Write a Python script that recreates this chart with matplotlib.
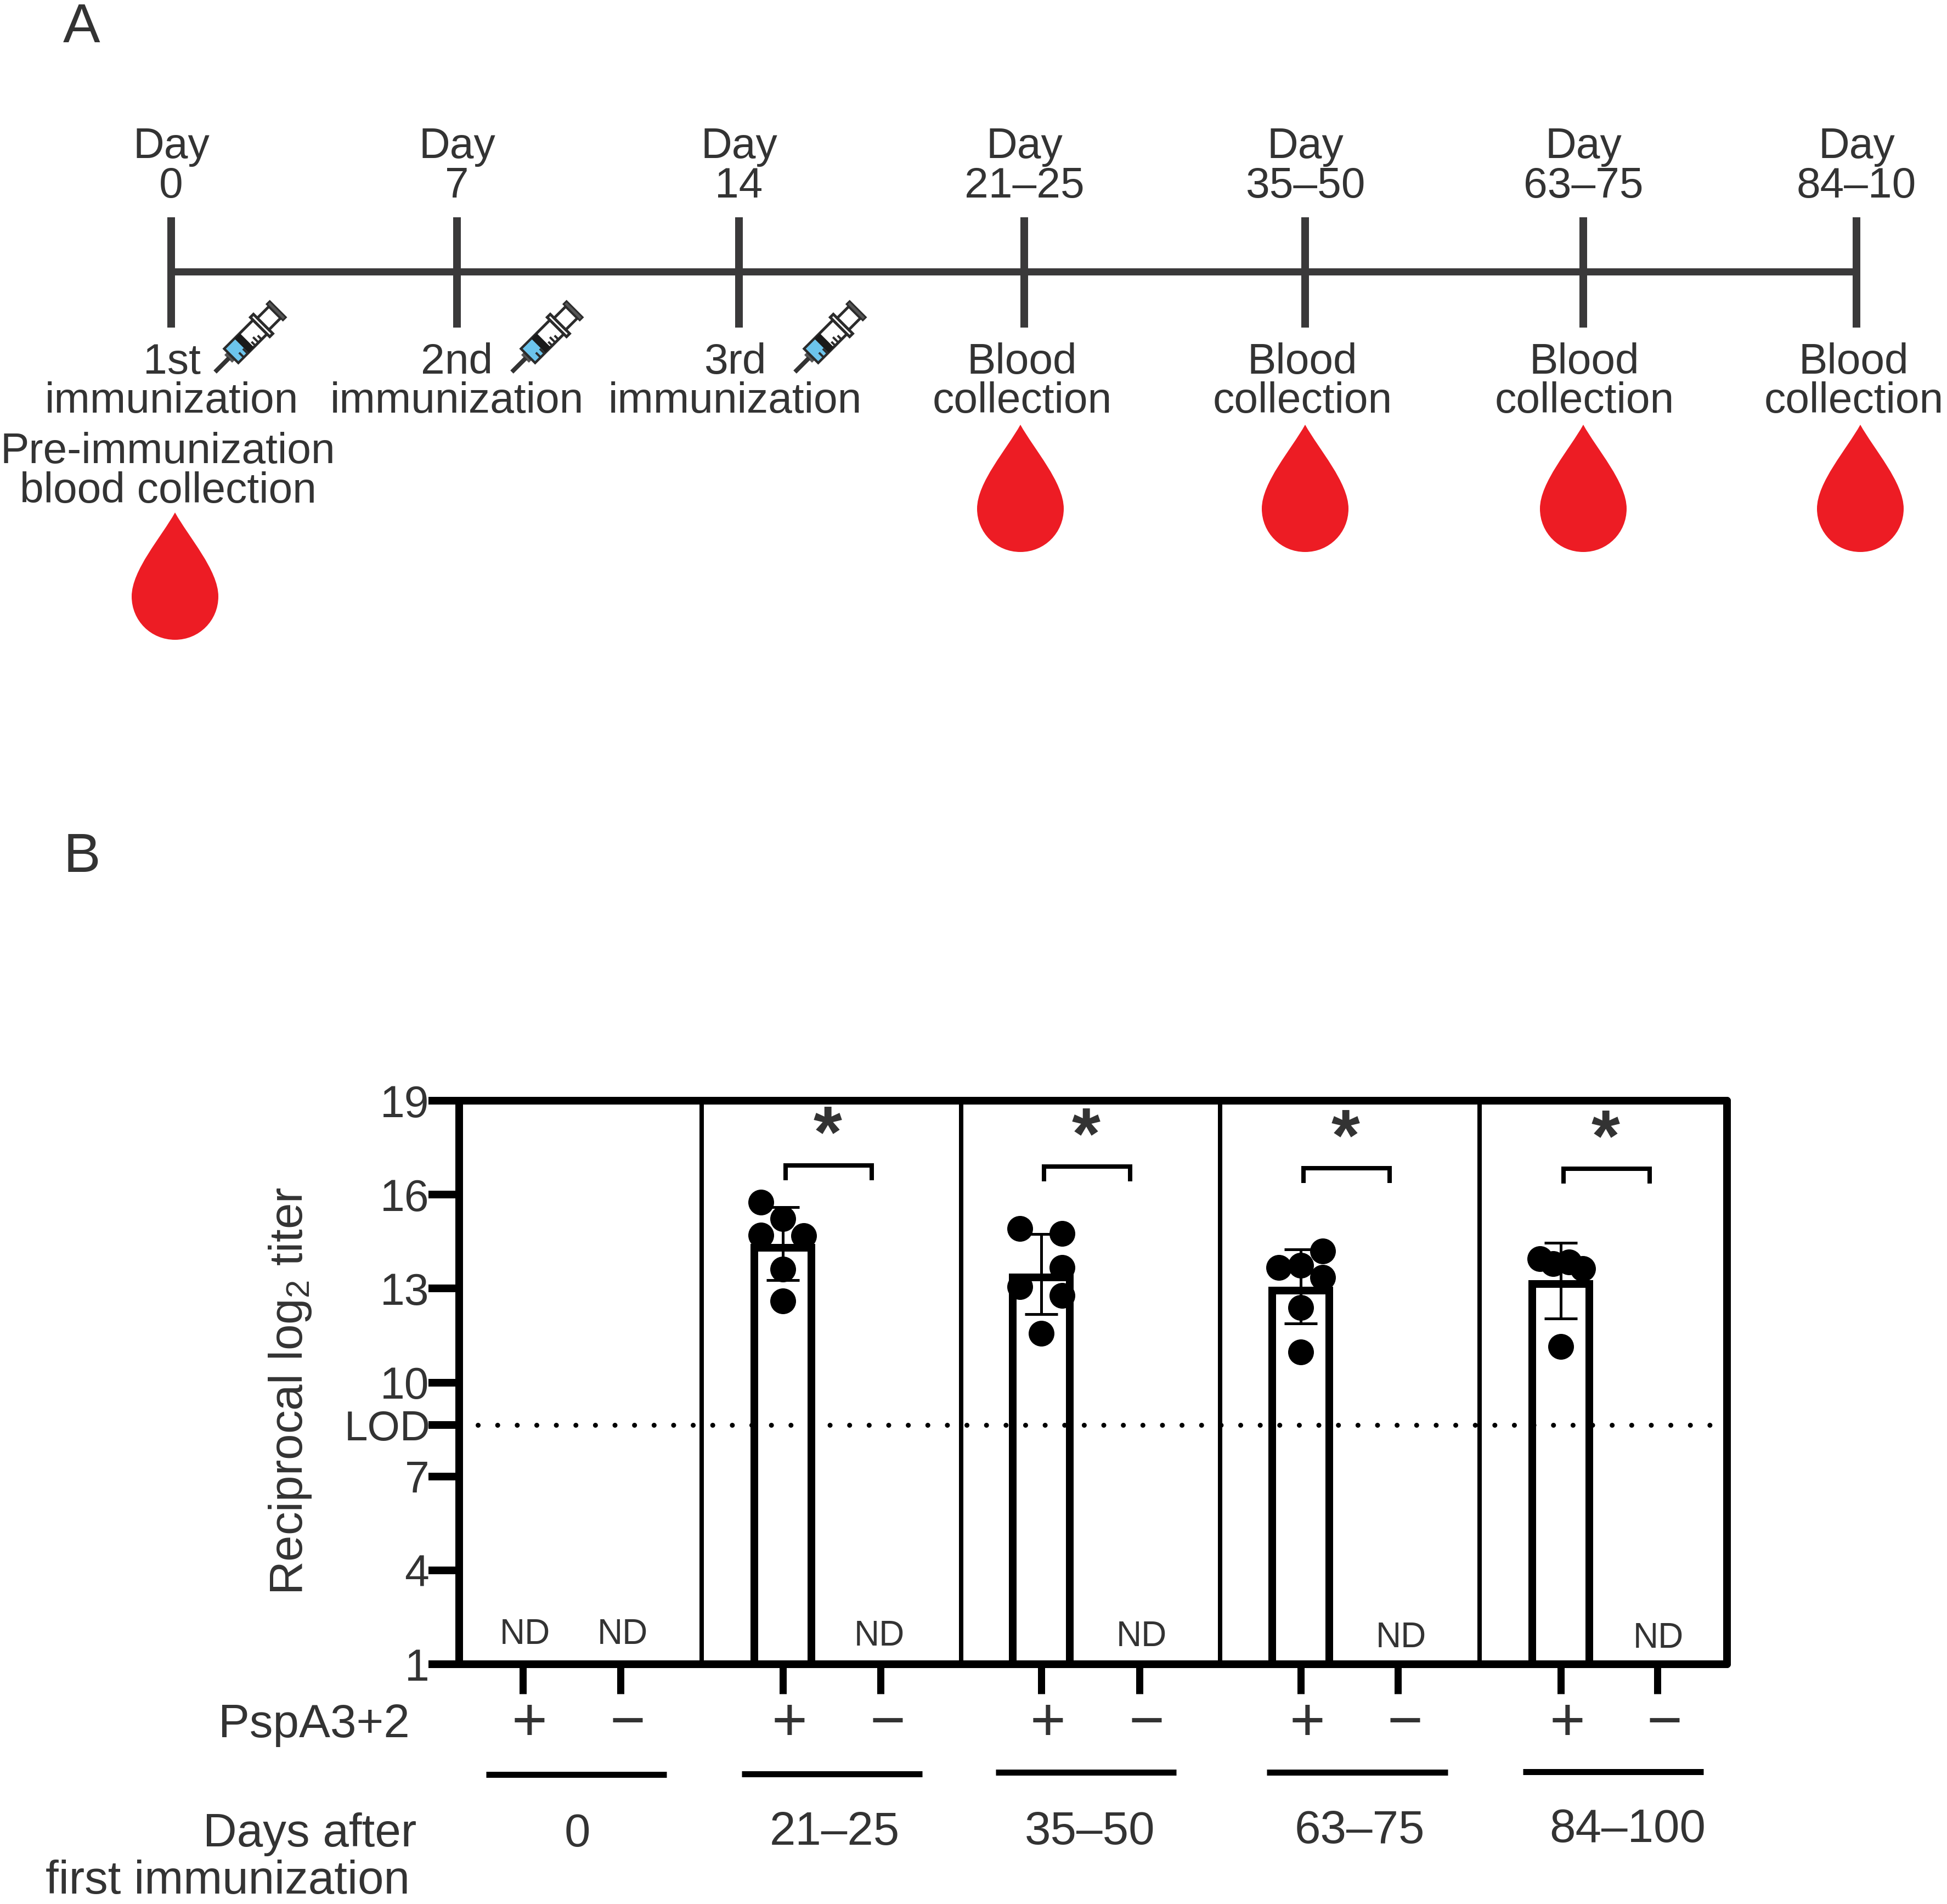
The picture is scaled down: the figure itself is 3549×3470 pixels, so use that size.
import numpy as np
import matplotlib
matplotlib.use('Agg')
import matplotlib.pyplot as plt
from matplotlib.path import Path
from matplotlib.patches import PathPatch, Polygon

plt.rcParams['font.family'] = ['Liberation Sans', 'DejaVu Sans']
plt.rcParams['mathtext.default'] = 'regular'

# Panel A, the schedule
day_labels = ['0', '7', '14', '21\u201325', '35\u201350', '63\u201375', '84\u201310']
day_pos = [312, 833, 1347, 1867, 2379, 2886, 3384]
event_top = ['1st', '2nd', '3rd', 'Blood', 'Blood', 'Blood', 'Blood']
event_bottom = ['immunization', 'immunization', 'immunization',
                'collection', 'collection', 'collection', 'collection']
event_pos = [313, 833, 1340, 1863, 2374, 2888, 3379]
syringe_tips = [392, 933, 1449]
drop_pos = [1860, 2379, 2886, 3391]

# Panel B, reciprocal log2 titers
group_labels = ['0', '21\u201325', '35\u201350', '63\u201375', '84\u2013100']
group_label_pos = [1052, 1521, 1987, 2478, 2967]
group_label_base = [3365, 3362, 3361, 3359, 3357]
tick_pos = [0, 1, 2.663, 3.663, 5.309, 6.315, 7.966, 8.961, 10.629, 11.618]
signs = ['+', '\u2212'] * 5
bar_pos = [2.663, 5.309, 7.966, 10.629]
means = [14.3, 13.35, 12.93, 13.14]
err_low = [13.26, 12.18, 11.88, 12.05]
err_high = [15.6, 14.74, 14.25, 14.46]
dots = [
    [15.75, 15.23, 14.7, 14.68, 13.62, 12.6],
    [14.91, 14.75, 13.68, 13.05, 12.77, 11.56],
    [13.68, 13.75, 14.2, 13.35, 12.39, 10.98],
    [13.96, 13.79, 13.84, 13.63, 11.14],
]
dots_dx = [
    [-0.225, 0, -0.225, 0.213, 0, 0],
    [-0.22, 0.214, 0.214, -0.22, 0.214, 0],
    [-0.225, 0, 0.222, 0.222, 0, 0],
    [-0.214, -0.079, 0.084, 0.225, 0],
]
bracket_y = [16.93, 16.89, 16.84, 16.82]
nd_pos = [0.022, 1.022, 3.652, 6.337, 8.994, 11.63]
nd_y = [1.65, 1.65, 1.6, 1.58, 1.55, 1.53]
group_line_x = [-0.376, 2.24, 4.84, 7.62, 10.24]
group_line_y = [-2.53, -2.51, -2.46, -2.46, -2.43]
LOD = 8.64
yticks = [1, 4, 7, LOD, 10, 13, 16, 19]
ytick_labels = ['1', '4', '7', 'LOD', '10', '13', '16', '19']

W, H = 3549, 3470
px = 0.72  # points per pixel at dpi 100
TXT = '#333333'
DARK = '#3a393a'
RED = '#ed1c24'

fig = plt.figure(figsize=(W / 100, H / 100), dpi=100)

# pixel layer for panel A and the labels round panel B
ov = fig.add_axes([0, 0, 1, 1], zorder=5)
ov.set_xlim(0, W)
ov.set_ylim(H, 0)
ov.axis('off')


def draw_drop(x, y):
    h, r = 232, 79
    verts = [(0, 0), (25, 45), (r, 105), (r, h - r),
             (r, h - r + 44), (44, h), (0, h),
             (-44, h), (-r, h - r + 44), (-r, h - r),
             (-r, 105), (-25, 45), (0, 0)]
    codes = [Path.MOVETO] + [Path.CURVE4] * 12
    verts = [(x + a, y + b) for a, b in verts]
    ov.add_patch(PathPatch(Path(verts, codes), fc=RED, ec='none'))


def draw_syringe(x, y):
    # local frame: u along the needle, v across it
    d = np.array([1, -1]) / np.sqrt(2)
    n = np.array([1, 1]) / np.sqrt(2)
    o = np.array([x, y])

    def pts(*uv):
        return [o + u * d + v * n for u, v in uv]

    def box(u0, u1, hw, **kw):
        ov.add_patch(Polygon(pts((u0, -hw), (u1, -hw), (u1, hw), (u0, hw)), closed=True, **kw))

    line = pts((0, 0), (36, 0))
    ov.plot(*zip(*line), color='#333333', lw=8 * px, solid_capstyle='butt')
    box(34, 44, 10, fc='#555555', ec='none')
    box(42, 116, 18, fc='white', ec='#2b2b2b', lw=5 * px)
    box(44, 70, 16, fc='#6cc4ec', ec='none')
    box(68, 82, 18, fc='#1a1a1a', ec='none')
    for u, l in zip([56, 66, 86, 94, 102], [10, 10, 8, 12, 8]):
        a = pts((u, 18), (u, 18 - l))
        ov.plot(*zip(*a), color='#2b2b2b', lw=4 * px)
    box(116, 124, 25, fc='white', ec='#2b2b2b', lw=5 * px)
    box(124, 154, 15, fc='white', ec='#2b2b2b', lw=5 * px)
    box(154, 162, 21, fc='#555555', ec='#2b2b2b', lw=3 * px)


ov.text(149, 77, 'A', fontsize=73, color=TXT, ha='center', va='baseline')
ov.text(149, 1589, 'B', fontsize=73, color=TXT, ha='center', va='baseline')

ov.plot([day_pos[0], day_pos[-1]], [495, 495], color=DARK, lw=13 * px, solid_capstyle='butt')
for x, lab in zip(day_pos, day_labels):
    ov.plot([x, x], [396, 597], color=DARK, lw=14 * px, solid_capstyle='butt')
    ov.text(x, 288, 'Day', fontsize=56.5, color=TXT, ha='center', va='baseline')
    ov.text(x, 360, lab, fontsize=56.5, color=TXT, ha='center', va='baseline')

for x, a, b in zip(event_pos, event_top, event_bottom):
    ov.text(x, 681, a, fontsize=56.5, color=TXT, ha='center', va='baseline')
    ov.text(x, 752, b, fontsize=56.5, color=TXT, ha='center', va='baseline')
ov.text(306, 844, 'Pre-immunization', fontsize=56.5, color=TXT, ha='center', va='baseline')
ov.text(306, 916, 'blood collection', fontsize=56.5, color=TXT, ha='center', va='baseline')

for x in syringe_tips:
    draw_syringe(x, 678)
draw_drop(319, 934)
for x in drop_pos:
    draw_drop(x, 774)

# Panel B
ax = fig.add_axes([837 / W, 1 - 3033 / H, (3148 - 837) / W, (3033 - 2006) / H], zorder=2)
ax.set_xlim(-0.652, 12.331)
ax.set_ylim(1, 19)
for s in ax.spines.values():
    s.set_linewidth(14 * px)
    s.set_capstyle('round')
ax.set_xticks(tick_pos)
ax.set_xticklabels([])
ax.set_yticks(yticks)
ax.set_yticklabels(ytick_labels, fontsize=58, color=TXT)
ax.tick_params(axis='x', length=54 * px, width=13 * px, color='k')
ax.tick_params(axis='y', length=56 * px, width=14 * px, color='k', pad=-1)
# the LOD label sits over its tick in the reference
ax.yaxis.get_major_ticks()[3].set_pad(-3)
ax.get_yticklabels()[3].set_fontsize(55)

for a, b in zip(tick_pos[1::2][:-1], tick_pos[2::2]):
    ax.axvline((a + b) / 2, color='k', lw=8 * px)

ax.plot([-0.46, 12.2], [LOD, LOD], color='k', lw=9 * px,
        linestyle=(0, (0.01, 3.95)), dash_capstyle='round', zorder=1)

ax.bar(bar_pos, np.array(means) - 1, bottom=1, width=0.585, fc='none', ec='k',
       lw=14 * px, joinstyle='miter', zorder=3)
m = np.array(means)
ax.errorbar(bar_pos, means, yerr=[m - np.array(err_low), np.array(err_high) - m],
            fmt='none', ecolor='k', elinewidth=5 * px, capsize=30 * px,
            capthick=5 * px, zorder=4)
for x, vals, dx in zip(bar_pos, dots, dots_dx):
    ax.plot(x + np.array(dx), vals, 'o', color='k', ms=47 * px, mew=0, zorder=5)

for x, y in zip(bar_pos, bracket_y):
    x0, x1 = x + 0.03, x + 0.91
    ax.plot([x0, x0, x1, x1], [y - 0.47, y, y, y - 0.47], color='k', lw=8 * px,
            solid_joinstyle='miter', solid_capstyle='butt')
    ax.text((x0 + x1) / 2 - 0.01, y + 0.27, '*', fontsize=96, fontweight='bold', color=TXT,
            ha='center', va='baseline')

for x, y in zip(nd_pos, nd_y):
    ax.text(x, y, 'ND', fontsize=46, color=TXT, ha='center', va='baseline')

for x, s in zip(tick_pos, signs):
    ax.text(x + 0.07, -1.44, s, fontsize=80, color=TXT, ha='center', va='baseline')

for x, y in zip(group_line_x, group_line_y):
    ax.plot([x, x + 1.85], [y, y], color='k', lw=11 * px, clip_on=False, solid_capstyle='butt')

ov.text(529, 2535, 'Reciprocal log$_2$ titer', fontsize=61.5, color=TXT, rotation=90,
        ha='center', va='center')
ov.text(747, 3166, 'PspA3+2', fontsize=61.5, color=TXT, ha='right', va='baseline')
ov.text(759, 3365, 'Days after', fontsize=61.5, color=TXT, ha='right', va='baseline')
ov.text(747, 3451, 'first immunization', fontsize=61.5, color=TXT, ha='right', va='baseline')
for x, y, lab in zip(group_label_pos, group_label_base, group_labels):
    ov.text(x, y, lab, fontsize=61.5, color=TXT, ha='center', va='baseline')

fig.savefig('out.png', dpi=100, facecolor='white')
